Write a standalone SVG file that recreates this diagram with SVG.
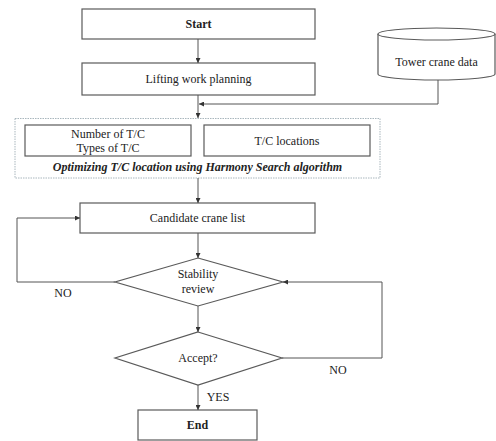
<svg xmlns="http://www.w3.org/2000/svg" width="496" height="441" viewBox="0 0 496 441">
<defs>
<marker id="ah" viewBox="0 0 6 6" refX="6" refY="3" markerWidth="5" markerHeight="5" orient="auto" markerUnits="userSpaceOnUse">
<path d="M0,0 L6,3 L0,6 z" fill="#333"/>
</marker>
</defs>
<style>
.box{fill:#fff;stroke:#5a5a5a;stroke-width:1.2}
.t{font-family:"Liberation Serif","Times New Roman",serif;font-size:12px;fill:#222;text-anchor:middle}
.b{font-weight:bold}
.c{fill:none;stroke:#555;stroke-width:1}
</style>
<rect width="496" height="441" fill="#fff"/>
<g id="start"><rect class="box" x="82" y="9" width="233" height="30"/><text class="t b" x="198.5" y="28">Start</text></g>
<g id="planning"><rect class="box" x="82" y="63" width="233" height="32"/><text class="t" x="198.5" y="83">Lifting work planning</text></g>
<g id="data">
<path class="box" d="M378,34 L378,74 A58.5,6 0 0 0 495,74 L495,34"/>
<ellipse class="box" cx="436.5" cy="34" rx="58.5" ry="6"/>
<text class="t" x="436.5" y="66">Tower crane data</text>
</g>
<g id="optimize">
<rect x="15" y="118.5" width="365" height="59.5" fill="#fff" stroke="#a9b6bd" stroke-width="1" stroke-dasharray="1.5 1"/>
<rect class="box" x="25" y="125" width="166" height="31"/>
<text class="t" x="108" y="138">Number of T/C</text>
<text class="t" x="108" y="152">Types of T/C</text>
<rect class="box" x="204" y="125" width="166" height="31"/>
<text class="t" x="287" y="145">T/C locations</text>
<text class="t b" x="197.5" y="171" font-style="italic" font-size="12.4">Optimizing T/C location using Harmony Search algorithm</text>
</g>
<g id="candidate"><rect class="box" x="80" y="203" width="235" height="30"/><text class="t" x="197.5" y="222">Candidate crane list</text></g>
<g id="stability"><polygon class="box" points="198,258 283,282 198,306 115,282"/><text class="t" x="198" y="278">Stability</text><text class="t" x="198" y="293">review</text></g>
<g id="accept"><polygon class="box" points="198,332 282,358 198,385 115,358"/><text class="t" x="198" y="362">Accept?</text></g>
<g id="end"><rect class="box" x="138" y="410" width="119" height="30"/><text class="t b" x="197.5" y="429">End</text></g>
<g id="connectors">
<line class="c" x1="198" y1="39" x2="198" y2="63" marker-end="url(#ah)"/>
<line class="c" x1="198" y1="95" x2="198" y2="118" marker-end="url(#ah)"/>
<polyline class="c" points="438,80 438,104 199,104" marker-end="url(#ah)"/>
<line class="c" x1="198" y1="178" x2="198" y2="203" marker-end="url(#ah)"/>
<line class="c" x1="198" y1="233" x2="198" y2="258" marker-end="url(#ah)"/>
<polyline class="c" points="115,282 17,282 17,218 80,218" marker-end="url(#ah)"/>
<line class="c" x1="198" y1="306" x2="198" y2="332" marker-end="url(#ah)"/>
<polyline class="c" points="282,358 382,358 382,282 283,282" marker-end="url(#ah)"/>
<line class="c" x1="198" y1="385" x2="198" y2="410" marker-end="url(#ah)"/>
<text class="t" x="63" y="297">NO</text>
<text class="t" x="338" y="374">NO</text>
<text class="t" x="218" y="401">YES</text>
</g>
</svg>
